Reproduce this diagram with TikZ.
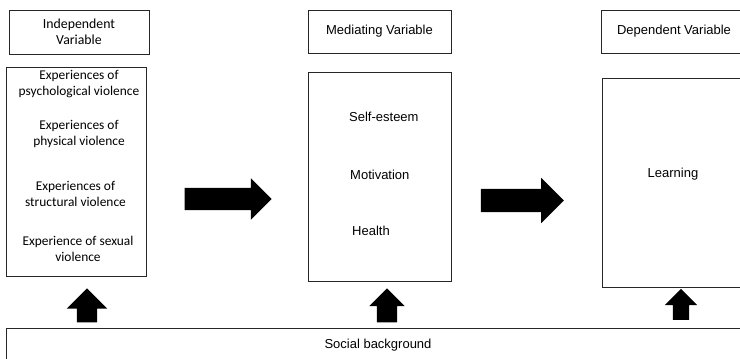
\documentclass[tikz,border=0pt]{standalone}
\usepackage{fontspec}
\setmainfont{Liberation Sans}
\newfontfamily\calibri{Carlito}
\usepackage{tikz}
\usetikzlibrary{shapes.arrows}

\begin{document}
\begin{tikzpicture}[x=1pt,y=-1pt,
  varbox/.style={draw=black!85,line width=1pt,rectangle,inner sep=0pt,
    font=\fontsize{13}{16}\selectfont,align=center},
  itemtext/.style={inner sep=0pt,font=\fontsize{13}{16}\selectfont,align=center},
  calitext/.style={itemtext,font=\calibri\fontsize{13.4}{16}\selectfont},
  blockarrow/.style={single arrow,fill=black,draw=none,inner sep=0pt,
    single arrow tip angle=90}]
\useasboundingbox (0,0) rectangle (740,359);
\clip (0,0) rectangle (740,359);
% headers
\node[varbox,minimum width=140,minimum height=44,font=\calibri\fontsize{13.8}{16}\selectfont] (indephead) at (79,32) {Independent\\Variable};
\node[varbox,minimum width=143,minimum height=43] (medhead) at (379.5,31.5) {Mediating Variable};
\node[varbox,minimum width=146,minimum height=43] (dephead) at (674,31.5) {Dependent Variable};
% variable boxes
\node[varbox,minimum width=140,minimum height=209] (indepbox) at (76,171.5) {};
\node[varbox,minimum width=143,minimum height=209] (medbox) at (379.5,176.5) {};
\node[varbox,minimum width=142,minimum height=209] (depbox) at (673,182.5) {};
\node[varbox,minimum width=744,minimum height=34] (social) at (378,345) {Social background};
% independent items
\node[calitext] (psych) at (79,84) {Experiences of\\psychological violence};
\node[calitext] (phys) at (79,134) {Experiences of\\physical violence};
\node[calitext] (struct) at (75.5,193.5) {Experiences of\\structural violence};
\node[calitext] (sexual) at (78,249) {Experience of sexual\\violence};
% mediating items
\node[itemtext,anchor=west] (esteem) at (349,117) {Self-esteem};
\node[itemtext,anchor=west] (motiv) at (350,175) {Motivation};
\node[itemtext,anchor=west] (health) at (352,231) {Health};
% dependent item
\node[itemtext] (learn) at (673,174) {Learning};
% block arrows
\node[blockarrow,minimum height=87,minimum width=41,inner ysep=11pt,single arrow head extend=9.5pt] (arrowone) at (222.5,199) {};
\node[blockarrow,minimum height=83,minimum width=45,inner ysep=11.5pt,single arrow head extend=11pt] (arrowtwo) at (516.5,200.5) {};
\node[blockarrow,shape border rotate=90,minimum height=34,minimum width=40,inner xsep=10pt,single arrow head extend=10pt] (upone) at (87,310.5) {};
\node[blockarrow,shape border rotate=90,minimum height=34,minimum width=35,inner xsep=10pt,single arrow head extend=7.5pt] (uptwo) at (387,310.5) {};
\node[blockarrow,shape border rotate=90,minimum height=31,minimum width=32,inner xsep=8pt,single arrow head extend=8pt] (upthree) at (681,308.5) {};
\end{tikzpicture}
\end{document}
